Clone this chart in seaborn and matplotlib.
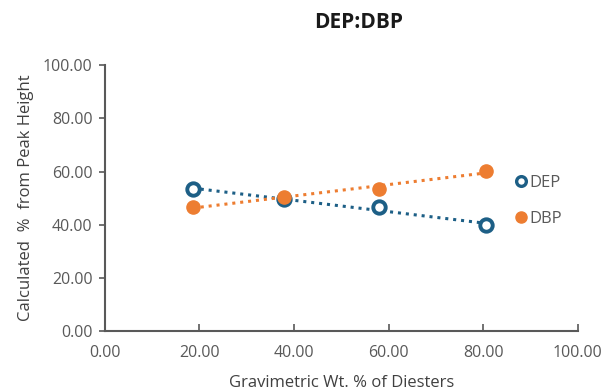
import matplotlib
matplotlib.use("Agg")
import matplotlib.pyplot as plt
import seaborn as sns
import pandas as pd
from matplotlib.lines import Line2D

x_vals = [18.6, 37.9, 58.0, 80.7]
dep_vals = [53.4, 49.5, 46.5, 39.8]
dbp_vals = [46.6, 50.5, 53.5, 60.2]
series_names = ["DEP", "DBP"]
x_ticks = [0, 20, 40, 60, 80, 100]
y_ticks = [0, 20, 40, 60, 80, 100]

sns.set_theme(style="white")
plt.rcParams['font.family'] = ['Open Sans', 'DejaVu Sans']

df = pd.DataFrame({"x": x_vals, "DEP": dep_vals, "DBP": dbp_vals})

blue = "#1d5f86"
orange = "#ed7d31"
gray = "#595959"

fig = plt.figure(figsize=(6.03, 3.9), dpi=100)
ax = fig.add_axes([0.174, 0.151, 0.784, 0.682])

sns.regplot(data=df, x="x", y="DEP", ax=ax, scatter=False, ci=None,
            line_kws=dict(color=blue, linestyle=(0, (1, 1.6)), linewidth=2.2))
sns.regplot(data=df, x="x", y="DBP", ax=ax, scatter=False, ci=None,
            line_kws=dict(color=orange, linestyle=(0, (1, 1.6)), linewidth=2.2))
ax.scatter(df["x"], df["DEP"], s=80, facecolor="white", edgecolor=blue, linewidth=2.8, zorder=5)
ax.scatter(df["x"], df["DBP"], s=90, color=orange, edgecolor=orange, zorder=6)

ax.set_xlim(0, 100)
ax.set_ylim(0, 100)
ax.set_xticks(x_ticks)
ax.set_yticks(y_ticks)
ax.set_xticklabels([f"{v:.2f}" for v in x_ticks])
ax.set_yticklabels([f"{v:.2f}" for v in y_ticks])
ax.tick_params(axis="x", bottom=True, direction="in", length=5, width=1.2, color=gray,
               labelsize=11.5, labelcolor=gray, pad=10)
ax.tick_params(axis="y", left=True, direction="out", length=4, width=1.2, color=gray,
               labelsize=11.5, labelcolor=gray, pad=5)
ax.spines["top"].set_visible(False)
ax.spines["right"].set_visible(False)
for s in ["left", "bottom"]:
    ax.spines[s].set_color(gray)
    ax.spines[s].set_linewidth(1.5)

ax.set_xlabel("Gravimetric Wt. % of Diesters", fontsize=12, color="#404040", labelpad=10)
ax.set_ylabel("Calculated  %  from Peak Height", fontsize=12, color="#404040", labelpad=6)
fig.text(0.594, 0.943, "DEP:DBP", ha="center", va="center", fontsize=15, fontweight="bold", color="#1a1a1a")

handles = [
    Line2D([], [], marker="o", linestyle="none", markersize=7, markerfacecolor="white",
           markeredgecolor=blue, markeredgewidth=2.4),
    Line2D([], [], marker="o", linestyle="none", markersize=8, color=orange),
]
leg = ax.legend(handles, series_names, loc="center left", bbox_to_anchor=(0.848, 0.49),
                frameon=False, handletextpad=0.1, handlelength=0.8, labelspacing=1.2,
                fontsize=12, borderpad=0)
for t in leg.get_texts():
    t.set_color(gray)

fig.savefig("out.png", dpi=100)
